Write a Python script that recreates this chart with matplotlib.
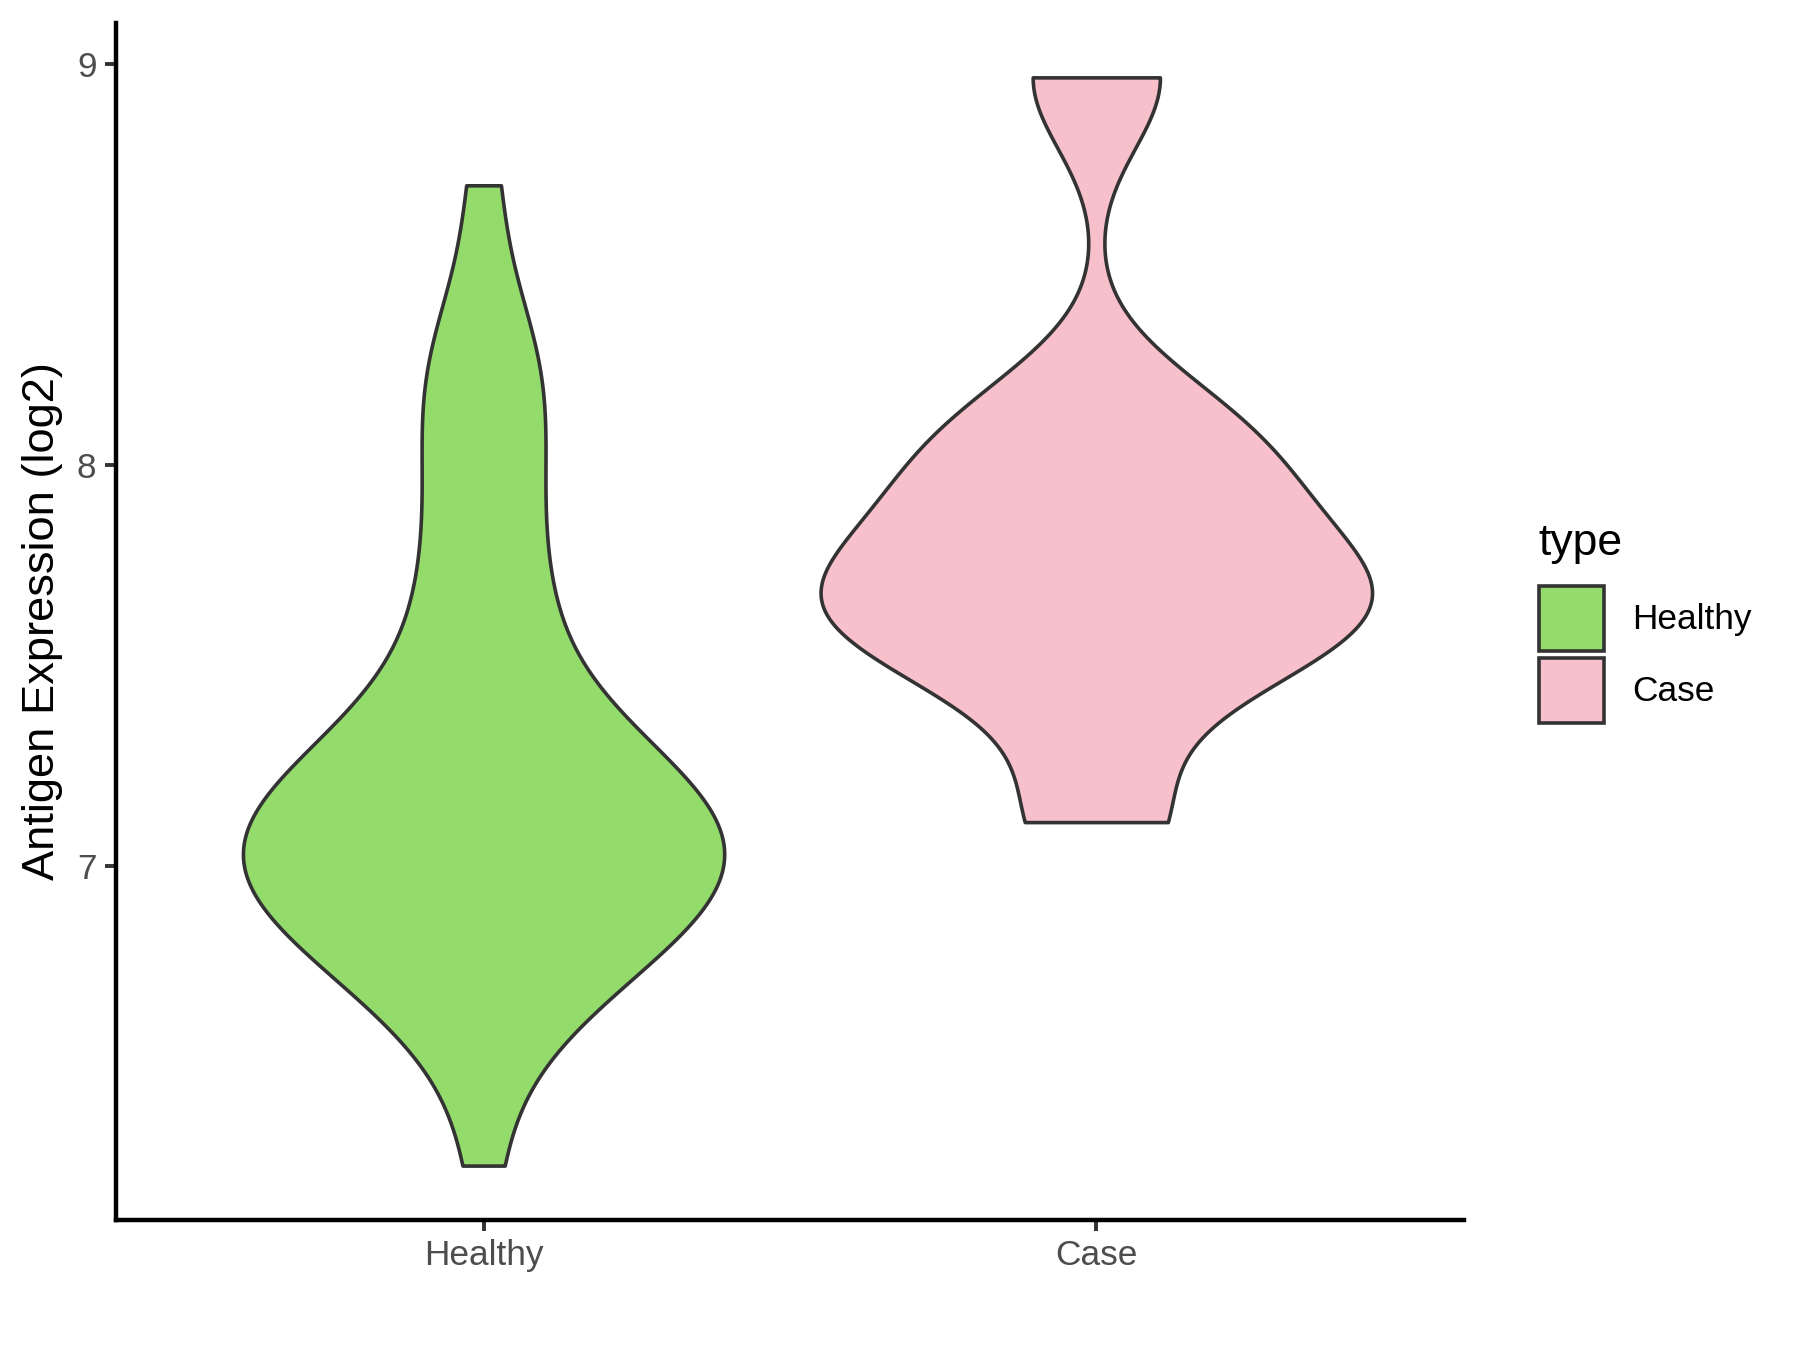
import numpy as np
import matplotlib.pyplot as plt
from matplotlib import cbook
from matplotlib.patches import Patch

plt.rcParams['font.family'] = ['Liberation Sans', 'DejaVu Sans']

groups = ["Healthy", "Case"]
colors = ["#93DB6B", "#F7C0CB"]
edge = "#333333"

# antigen expression (log2), one value per sample
healthy = [6.254, 6.54, 6.63, 6.69, 6.73, 6.77, 6.80, 6.84, 6.86, 6.88, 6.91,
           6.93, 6.95, 6.97, 6.99, 7.01, 7.03, 7.05, 7.07, 7.09, 7.11, 7.13,
           7.16, 7.18, 7.20, 7.23, 7.26, 7.29, 7.33, 7.37, 7.44, 7.55,
           7.62, 7.70, 7.80, 7.92, 8.02, 8.11, 8.20, 8.30, 8.36, 8.697]
case = [7.11, 7.50, 7.60, 7.65, 7.71, 7.85, 8.01, 8.12, 8.966]


def bw_nrd0(x):
    # R's default bandwidth (what ggplot's geom_violin uses)
    x = np.asarray(x)
    sd = np.std(x, ddof=1)
    q1, q3 = np.percentile(x, [25, 75])
    return 0.9 * min(sd, (q3 - q1) / 1.34) * len(x) ** -0.2


def gauss_kde(x, coords):
    x = np.asarray(x)
    bw = bw_nrd0(x)
    z = (coords[:, None] - x[None, :]) / bw
    return np.exp(-0.5 * z ** 2).sum(axis=1) / (len(x) * bw * np.sqrt(2 * np.pi))


stats = cbook.violin_stats([healthy, case], gauss_kde, points=512)
# scale = "area": widths relative to the largest density of all groups
gmax = max(s['vals'].max() for s in stats)
widths = [0.9 * s['vals'].max() / gmax for s in stats]

fig = plt.figure(figsize=(9, 6.75), dpi=200)
ax = fig.add_axes([0.0644, 0.0963, 0.7489, 0.8867])

parts = ax.violin(stats, positions=[1, 2], widths=widths,
                  showmeans=False, showextrema=False, showmedians=False)
for body, c in zip(parts['bodies'], colors):
    body.set_facecolor(c)
    body.set_edgecolor(edge)
    body.set_linewidth(1.3)
    body.set_alpha(1)

allv = np.concatenate([healthy, case])
pad = 0.05 * (allv.max() - allv.min())
ax.set_ylim(allv.min() - pad, allv.max() + pad)
ax.set_xlim(0.4, 2.6)
ax.set_yticks([7, 8, 9])
ax.set_xticks([1, 2])
ax.set_xticklabels(groups)

for s in ["top", "right"]:
    ax.spines[s].set_visible(False)
for s in ["left", "bottom"]:
    ax.spines[s].set_linewidth(1.6)
    ax.spines[s].set_color("black")
ax.tick_params(length=4, width=1.4, color=edge, labelsize=12.7,
               labelcolor="#4D4D4D", pad=3)
ax.set_ylabel("Antigen Expression (log2)", fontsize=16.3, labelpad=5)

# legend (title drawn separately so the gap above the keys matches)
fig.text(1538 / 1800, 1 - 555 / 1350, "type", fontsize=16,
         ha="left", va="baseline")
handles = [Patch(facecolor=c, edgecolor=edge, linewidth=1.3) for c in colors]
fig.legend(handles, groups, loc="upper left",
           bbox_to_anchor=(1539 / 1800, 1 - 586 / 1350), frameon=False,
           fontsize=12.7, handlelength=1.835, handleheight=2.446,
           labelspacing=0.2, handletextpad=0.8,
           borderpad=0, borderaxespad=0)

fig.savefig("out.png", dpi=200)
